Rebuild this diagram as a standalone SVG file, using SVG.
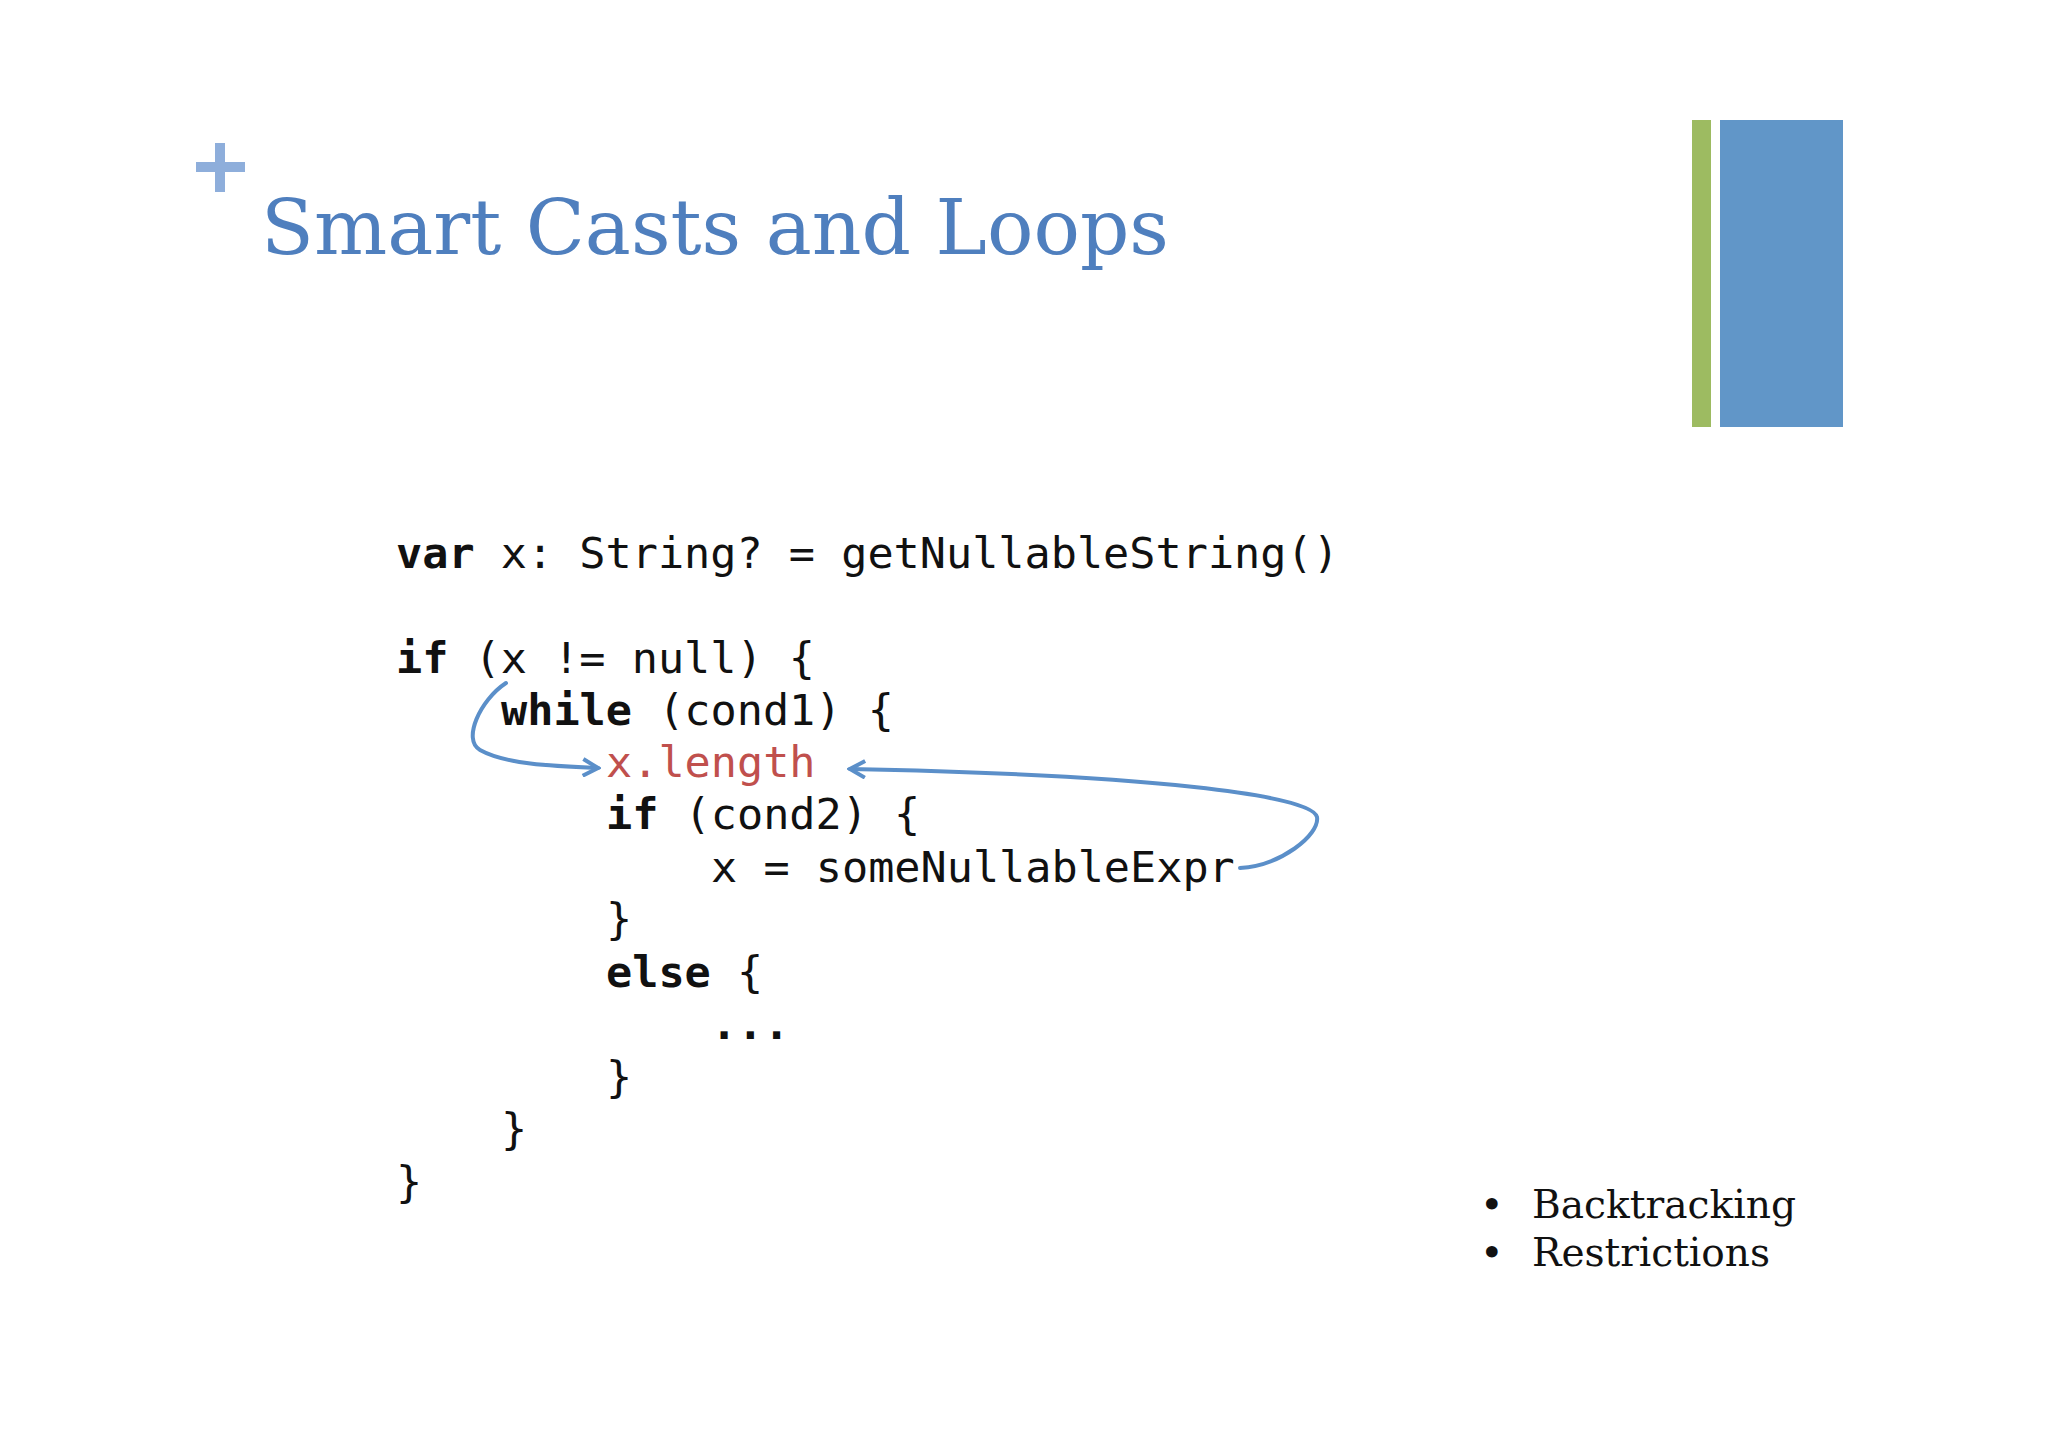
<svg xmlns="http://www.w3.org/2000/svg" width="2048" height="1447" viewBox="0 0 2048 1447">
<defs>
<style>
.code{font-family:"DejaVu Sans Mono",monospace;font-size:43.5px;fill:#111}
.b{font-weight:bold}
.bul{font-family:"DejaVu Serif","Liberation Serif",serif;font-size:40px;fill:#111}
.arr{fill:none;stroke:#5b8fc9;stroke-width:4;stroke-linecap:round}
</style>
<marker id="ah" viewBox="0 0 12 12" refX="10" refY="6" markerWidth="5" markerHeight="5" orient="auto" markerUnits="strokeWidth">
<path d="M1,1 L10,6 L1,11" fill="none" stroke="#5b8fc9" stroke-width="2.4"/>
</marker>
</defs>
<rect width="2048" height="1447" fill="#fff"/>
<g id="plus" fill="#8eaedb">
<rect x="196" y="162" width="49" height="10"/>
<rect x="215" y="143" width="10" height="49"/>
</g>
<text id="title" x="261" y="254" font-family="DejaVu Serif,serif" font-size="76" fill="#4f7fbe" textLength="908" lengthAdjust="spacingAndGlyphs">Smart Casts and Loops</text>
<rect x="1692" y="120" width="19" height="307" fill="#9dbb61"/>
<rect x="1720" y="120" width="123" height="307" fill="#6196c8"/>
<g id="code">
<text class="code" x="396" y="568"><tspan class="b">var</tspan> x: String? = getNullableString()</text>
<text class="code" x="396" y="673"><tspan class="b">if</tspan> (x != null) {</text>
<text class="code" x="501" y="725"><tspan class="b">while</tspan> (cond1) {</text>
<text class="code" x="606" y="777" fill="#c0504d" style="fill:#c0504d">x.length</text>
<text class="code" x="606" y="829"><tspan class="b">if</tspan> (cond2) {</text>
<text class="code" x="711" y="882">x = someNullableExpr</text>
<text class="code" x="606" y="934">}</text>
<text class="code b" x="606" y="987">else <tspan font-weight="normal">{</tspan></text>
<text class="code b" x="711" y="1039">...</text>
<text class="code" x="606" y="1092">}</text>
<text class="code" x="501" y="1144">}</text>
<text class="code" x="396" y="1197">}</text>
</g>
<g id="connectors">
<path class="arr" marker-end="url(#ah)" d="M506,683 C480,700 462,740 480,750 C505,764 550,766 598,768"/>
<path class="arr" marker-end="url(#ah)" d="M1240,868 C1280,866 1320,835 1317,817 C1312,795 1150,775 850,769"/>
</g>
<g id="bullets">
<text class="bul" x="1480" y="1218">•</text>
<text class="bul" x="1532" y="1218" textLength="264" lengthAdjust="spacingAndGlyphs">Backtracking</text>
<text class="bul" x="1480" y="1266">•</text>
<text class="bul" x="1532" y="1266" textLength="238" lengthAdjust="spacingAndGlyphs">Restrictions</text>
</g>
</svg>
